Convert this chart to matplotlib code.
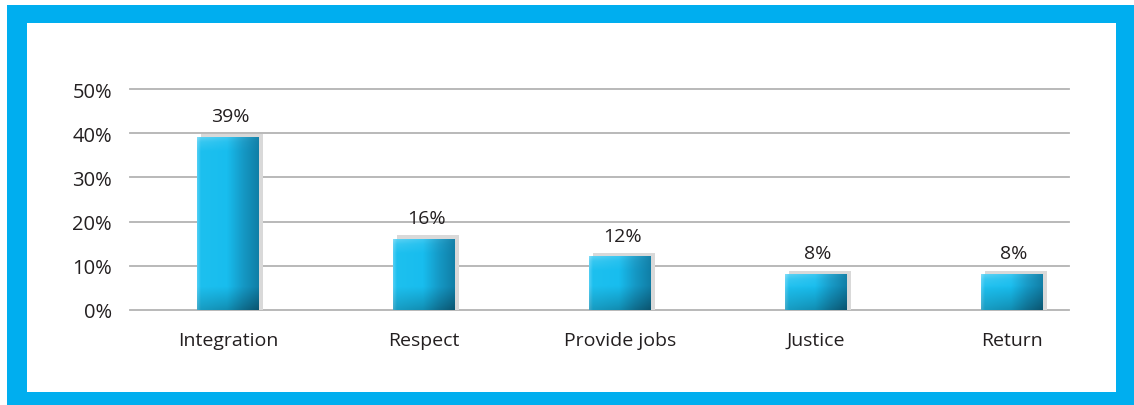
import numpy as np
import matplotlib
matplotlib.use("Agg")
from matplotlib import pyplot as plt
from matplotlib.patches import Rectangle
from matplotlib.colors import to_rgb

categories = ["Integration", "Respect", "Provide jobs", "Justice", "Return"]
values = [39, 16, 12, 8, 8]
yticks = [0, 10, 20, 30, 40, 50]
ytick_labels = ["0%", "10%", "20%", "30%", "40%", "50%"]

plt.rcParams['font.family'] = ['Open Sans', 'DejaVu Sans']
text_color = "#231f20"
blue = "#00aeef"

fig = plt.figure(figsize=(11.34, 4.06), dpi=100)
fig.patch.set_facecolor("white")

# blue frame with white inside
W, H = 1134.0, 406.0
fig.patches.append(Rectangle((7 / W, 0), 1 - 7 / W, 1 - 6 / H, transform=fig.transFigure,
                             facecolor=blue, edgecolor="none", zorder=-2))
fig.patches.append(Rectangle((27 / W, 13 / H), (1116 - 27) / W, (393 - 24) / H,
                             transform=fig.transFigure, facecolor="white", edgecolor="none", zorder=-1))

ax = fig.add_axes([130 / W, 1 - 311 / H, (1069 - 130) / W, (311 - 90) / H])
ax.set_zorder(2)
ax.set_facecolor("none")
for s in ax.spines.values():
    s.set_visible(False)

ax.set_xlim(-0.5, 4.29)
ax.set_ylim(0, 50)
for t in yticks:
    ax.axhline(t, color="#b3b3b3", lw=1.3, zorder=1, clip_on=False)

px_per_unit = (311 - 90) / 50.0


def bar_image(h_px, w_px=62):
    xs = np.arange(w_px) + 0.5
    ys = np.arange(max(int(h_px), 2)) + 0.5
    # horizontal profile (left highlight, darker right side)
    stops_x = [0, 4, 30, 46, 62]
    cols_x = [to_rgb(c) for c in ["#55cff4", "#1dc0ef", "#18bdee", "#1599c6", "#107ea6"]]
    base = np.zeros((len(xs), 3))
    for k in range(3):
        base[:, k] = np.interp(xs, stops_x, [c[k] for c in cols_x])
    # vertical: light top edge, darker band at the bottom (fixed pixel height)
    from_bottom = h_px - ys
    dark = np.interp(from_bottom, [0, 5, 24], [0.34, 0.26, 0.0])
    dark = dark[:, None] * np.interp(xs, [0, 62], [0.55, 1.0])[None, :]
    lift = np.interp(ys, [0, 5, 14], [0.3, 0.12, 0.0])
    lift = lift[:, None] * np.interp(xs, [0, 40, 62], [1.0, 0.4, 0.1])[None, :]
    img = base[None, :, :] * (1 - dark[:, :, None])
    img = img + (1 - img) * lift[:, :, None]
    return np.clip(img, 0, 1)


bw = 0.316
dx = 4 / 196.0
dy = 4 / px_per_unit
for i, v in enumerate(values):
    ax.add_patch(Rectangle((i - bw / 2 + dx, 0), bw, v + dy, facecolor="#d9d9d9",
                           edgecolor="none", zorder=2))
    ax.imshow(bar_image(v * px_per_unit), extent=(i - bw / 2, i + bw / 2, 0, v), aspect="auto",
              origin="upper", zorder=3, interpolation="bilinear")
    ax.annotate(f"{v}%", (i + dx / 2, v + dy), xytext=(0, 6), textcoords="offset points",
                ha="center", va="bottom", fontsize=14, color=text_color)

ax.set_xlim(-0.5, 4.29)
ax.set_ylim(0, 50)
ax.set_xticks(range(len(categories)))
ax.set_xticklabels(categories)
ax.set_yticks(yticks)
ax.set_yticklabels(ytick_labels)
ax.tick_params(axis="both", length=0, labelcolor=text_color)
ax.tick_params(axis="y", pad=13, labelsize=14.5)
ax.tick_params(axis="x", pad=15, labelsize=14)

fig.savefig("out.png", dpi=100)
